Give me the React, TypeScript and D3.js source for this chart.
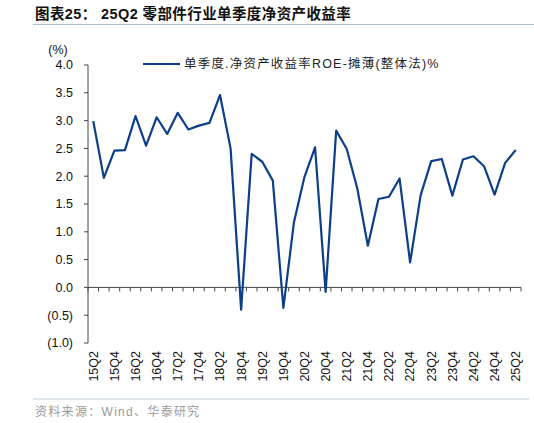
import React from 'react';
import * as d3 from 'd3';

// quarterly ROE, %, 15Q2 .. 25Q2
const quarters: string[] = [
    '15Q2', '15Q3', '15Q4', '16Q1', '16Q2', '16Q3', '16Q4', '17Q1', '17Q2', '17Q3', '17Q4',
    '18Q1', '18Q2', '18Q3', '18Q4', '19Q1', '19Q2', '19Q3', '19Q4', '20Q1', '20Q2', '20Q3',
    '20Q4', '21Q1', '21Q2', '21Q3', '21Q4', '22Q1', '22Q2', '22Q3', '22Q4', '23Q1', '23Q2',
    '23Q3', '23Q4', '24Q1', '24Q2', '24Q3', '24Q4', '25Q1', '25Q2'
];
const roe: number[] = [
    2.99, 1.97, 2.46, 2.47, 3.08, 2.55, 3.06, 2.76, 3.14, 2.84, 2.91,
    2.96, 3.46, 2.50, -0.40, 2.40, 2.26, 1.92, -0.37, 1.17, 1.99, 2.52,
    -0.08, 2.82, 2.49, 1.78, 0.75, 1.59, 1.63, 1.96, 0.45, 1.66, 2.27,
    2.31, 1.65, 2.30, 2.36, 2.18, 1.67, 2.24, 2.47
];
const yTicks: number[] = [-1, -0.5, 0, 0.5, 1, 1.5, 2, 2.5, 3, 3.5, 4];

const W = 534;
const H = 423;
const font = '"Liberation Sans", Arial, sans-serif';
const cjk = '"Liberation Sans", "Noto Sans CJK SC", sans-serif';
const lineColor = '#0c3f87';

const fmt = (v: number) => (v < 0 ? `(${Math.abs(v).toFixed(1)})` : v.toFixed(1));

export default function App() {
    const x = d3.scaleBand<string>().domain(quarters).range([88, 521]).padding(0);
    const y = d3.scaleLinear().domain([-1, 4]).range([343, 65]);

    const line = d3.line<number>()
        .x((_, i) => (x(quarters[i]) as number) + x.bandwidth() / 2)
        .y(d => y(d));

    const boundaries = quarters.map(q => x(q) as number).concat([x.range()[1]]);

    return (
        <div style={{ position: 'absolute', left: 0, top: 0 }}>
            <svg width={W} height={H} style={{ display: 'block', background: '#fff' }}>
                {/* title */}
                <text x={35} y={19} fontFamily={cjk} fontWeight="bold" fontSize={14.5} letterSpacing={0.4} fill="#111">
                    图表25：  25Q2 零部件行业单季度净资产收益率
                </text>
                <line x1={33} x2={534} y1={24.5} y2={24.5} stroke="#a9bfd6" strokeWidth={1.2} />

                {/* y axis */}
                <text x={58} y={54} fontFamily={font} fontSize={12.5} fill="#111" textAnchor="middle">(%)</text>
                <line x1={88} x2={88} y1={y(4)} y2={y(-1)} stroke="#444" strokeWidth={1} />
                {yTicks.map(t => (
                    <g key={t}>
                        <line x1={84} x2={88} y1={y(t)} y2={y(t)} stroke="#444" />
                        <text x={73} y={y(t)} dy="0.35em" textAnchor="end" fontFamily={font} fontSize={12.5} fill="#111">
                            {fmt(t)}
                        </text>
                    </g>
                ))}

                {/* x axis at zero */}
                <line x1={88} x2={521} y1={y(0)} y2={y(0)} stroke="#444" strokeWidth={1} />
                {boundaries.map((b, i) => (
                    <line key={i} x1={b} x2={b} y1={y(0)} y2={y(0) + 4} stroke="#444" />
                ))}
                {quarters.map((q, i) => i % 2 === 0 ? (
                    <text
                        key={q}
                        transform={`translate(${(x(q) as number) + x.bandwidth() / 2},351) rotate(-90)`}
                        textAnchor="end"
                        dy="0.35em"
                        fontFamily={font}
                        fontSize={12.5}
                        fill="#111"
                    >
                        {q}
                    </text>
                ) : null)}

                {/* series */}
                <path d={line(roe) || ''} fill="none" stroke={lineColor} strokeWidth={2.2} strokeLinejoin="round" />

                {/* legend */}
                <line x1={143} x2={180} y1={64} y2={64} stroke={lineColor} strokeWidth={2.2} />
                <text x={184} y={64} dy="0.35em" fontFamily={cjk} fontSize={12.5} letterSpacing={1.2} fill="#222">
                    单季度.净资产收益率ROE-摊薄(整体法)%
                </text>

                {/* source */}
                <line x1={33} x2={529} y1={399} y2={399} stroke="#b9c9da" strokeWidth={1.2} />
                <text x={35} y={416} fontFamily={cjk} fontSize={12} letterSpacing={1.3} fill="#9a9a9a">
                    资料来源：Wind、华泰研究
                </text>
            </svg>
        </div>
    );
}
